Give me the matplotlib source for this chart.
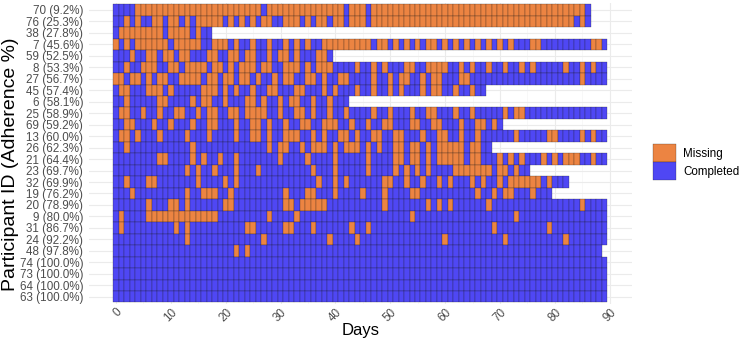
import numpy as np
import matplotlib
matplotlib.use("Agg")
import matplotlib.pyplot as plt
from matplotlib.patches import Patch

# Participant labels (top to bottom)
participants = [
    "70 (9.2%)", "76 (25.3%)", "38 (27.8%)", "7 (45.6%)", "59 (52.5%)",
    "8 (53.3%)", "27 (56.7%)", "45 (57.4%)", "6 (58.1%)", "25 (58.9%)",
    "69 (59.2%)", "13 (60.0%)", "26 (62.3%)", "21 (64.4%)", "23 (69.7%)",
    "32 (69.9%)", "19 (76.2%)", "20 (78.9%)", "9 (80.0%)", "31 (86.7%)",
    "24 (92.2%)", "48 (97.8%)", "74 (100.0%)", "73 (100.0%)", "64 (100.0%)",
    "63 (100.0%)",
]

# Daily status per participant: B = Completed, O = Missing (day 0 onward)
status = [
    "BBBB" + "O" * 23 + "B" + "O" * 14 + "B" + "OOO" + "B" + "O" * 39 + "B",
    "BBOBOBBOOBOOBOBOOOOOBO" + "BOBOBOOBBOOOBOBOOBOOBOO" + "OB" + "O" * 37 + "BOB",
    "BOOOOOOOOBOOOOBOBB",
    "OBOBOOOOOOBOOOOOBBOOOB" + "OBBOBBOBBOBOBOBBOOOOOOO" + "OOBOOBOBOBOBOOBOBOBOBO" + "BOBOBOBBBOO" + "BBBBBBBBB" + "OOB",
    "BBBOBBOOBOOBOOBBBOOBBO" + "OBOOBBOBOOBOBBBOOB",
    "BBOBBOOOBBOOBOOOOBOOBO" + "BOOOBOOBBOOOBOBOOOBBBBO" + "BBOBOBBBOOBBOOOOBBOBOB" + "BOBBOBBOBOBBBBBOBBOBOBB",
    "OOBOOBOBOOBBOOOOBOOBOO" + "BOOBOBBOBOOBBOOBOBBOOBB" + "BBOBBOBOOBBOBOOBBBOOBB" + "BBBBBBBBBBBBBBBBBBOBBBB",
    "BOOBBBOOOBOBBBBBOOOBOB" + "OBBOBBOOBBBOOBBBOBOBBBO" + "BBOBBOBOBBBOBOOBBOBBOBB",
    "BBOBBBBBOOBBBBOBOOBBOB" + "BBOOBOBBOBOOBBOBBOBBB",
    "BOOBBOBBOBBOOBBOBOOBBO" + "OBOOOOBBOBBOOBOBBOBBOBB" + "BBOBBOBBBOBBOOBBBOBBOB" + "BBBBOBOOBBBBBBBBBBBBBBB",
    "BBOOBBBOBBOBBBOBBOOBBB" + "OBBOOBOBBOBBOOBBOOOBBOB" + "BOBBOOBBBOOBBOOBBBOBBO" + "OBOB",
    "BOOBOBBBOBBBBOBBBOBBBB" + "OBBOOBOBBOOOBBOBOBBOOBO" + "BBOOBBOOBBBOBBOOBBOBBO" + "BBBBBBOBBBBBOOBBBBOBOBB",
    "BBOBBBBBBBBBBBOBBBBBBB" + "BBBBBBOBOOBBOBOOOBOBOOO" + "BOBOBBOOBOOBOBOOOOOBOO" + "BB",
    None, None, None, None, None, None, None, None, None, None, None, None, None,
]

# Mostly-complete participants: row index -> (number of days, missing days)
missing_days = {
    13: (90, [8, 9, 14, 16, 19, 22, 30, 35, 40, 46, 51, 52, 54, 55, 57, 59, 60, 61, 62, 63, 65, 66,
              70, 72, 74, 78, 80, 82, 83, 84, 87]),
    14: (76, [13, 15, 18, 22, 26, 36, 40, 46, 51, 53, 55, 57, 62, 63, 64, 65, 66, 67, 68, 70, 71, 73]),
    15: (83, [2, 6, 7, 15, 20, 22, 37, 40, 42, 49, 50, 53, 56, 59, 61, 65, 67, 70, 72, 73, 74, 75,
              76, 77, 79]),
    16: (80, [3, 13, 16, 17, 18, 21, 31, 35, 36, 40, 45, 49, 54, 55, 66, 69, 71, 72, 76]),
    17: (90, [6, 10, 11, 13, 20, 21, 31, 32, 34, 35, 36, 37, 38, 49, 57, 59, 61, 68, 85]),
    18: (90, [1, 6, 7, 8, 9, 10, 11, 12, 13, 14, 15, 16, 17, 18, 28, 33, 54, 73]),
    19: (90, [1, 11, 13, 24, 25, 31, 32, 36, 43, 46, 69, 79]),
    20: (90, [13, 27, 39, 44, 60, 71, 82]),
    21: (89, [22, 24]),
    22: (90, []),
    23: (90, []),
    24: (90, []),
    25: (90, []),
}

orange = "#EC8442"
blue = "#4F47F4"
edge = (0.1, 0.1, 0.1, 0.6)

n = len(participants)
rows = []
for i in range(n):
    if status[i] is not None:
        rows.append(status[i])
    else:
        length, miss = missing_days[i]
        rows.append("".join("O" if d in miss else "B" for d in range(length)))

fig = plt.figure(figsize=(7.40, 3.46), dpi=100)
ax = fig.add_axes([88.6 / 740, 1 - 303.6 / 346, (631.7 - 88.6) / 740, (303.6 - 3.1) / 346])

for i, s in enumerate(rows):
    d = np.arange(len(s))
    cols = [blue if ch == "B" else orange for ch in s]
    ax.bar(d, 1.0, width=1.0, bottom=i - 0.5, color=cols, edgecolor=edge,
           linewidth=0.3, zorder=2)

ax.set_xlim(-5, 94)
ax.set_ylim(n - 1 + 0.6, -0.6)

ax.set_xticks(np.arange(0, 91, 10))
ax.set_xticks(np.arange(5, 90, 10), minor=True)
ax.set_yticks(np.arange(n))
ax.set_yticklabels(participants)
ax.grid(which="major", color="#EBEBEB", linewidth=0.8, zorder=0)
ax.grid(which="minor", axis="x", color="#F4F4F4", linewidth=0.45, zorder=0)
ax.set_axisbelow(True)
for sp in ax.spines.values():
    sp.set_visible(False)

font = "Liberation Sans"
ax.tick_params(axis="both", which="both", length=0)
ax.tick_params(axis="y", pad=4, labelsize=8.4, labelcolor="#4D4D4D")
ax.tick_params(axis="x", pad=2, labelsize=8.4, labelcolor="#4D4D4D")
for lab in ax.get_yticklabels():
    lab.set_fontfamily(font)
for lab in ax.get_xticklabels():
    lab.set_fontfamily(font)
    lab.set_rotation(45)
    lab.set_ha("right")
    lab.set_va("top")
    lab.set_rotation_mode("anchor")

ax.set_xlabel("Days", fontsize=12, fontfamily=font, va="center")
ax.xaxis.set_label_coords(0.5, (303.6 - 331) / 300.5)
ax.set_ylabel("Participant ID (Adherence %)", fontsize=14.0, fontfamily=font, va="center")
ax.yaxis.set_label_coords((10.5 - 88.6) / 543.1, (303.6 - 164) / 300.5)

handles = [Patch(facecolor=orange, edgecolor=edge, linewidth=0.3, label="Missing"),
           Patch(facecolor=blue, edgecolor=edge, linewidth=0.3, label="Completed")]
fig.legend(handles=handles, loc="center left", bbox_to_anchor=(653 / 740, 1 - 162 / 346),
           frameon=False, prop={"family": font, "size": 8.4},
           handlelength=2.0, handleheight=2.0, labelspacing=0.0, handletextpad=0.6,
           borderpad=0, borderaxespad=0)

fig.savefig("out.png", dpi=100)
